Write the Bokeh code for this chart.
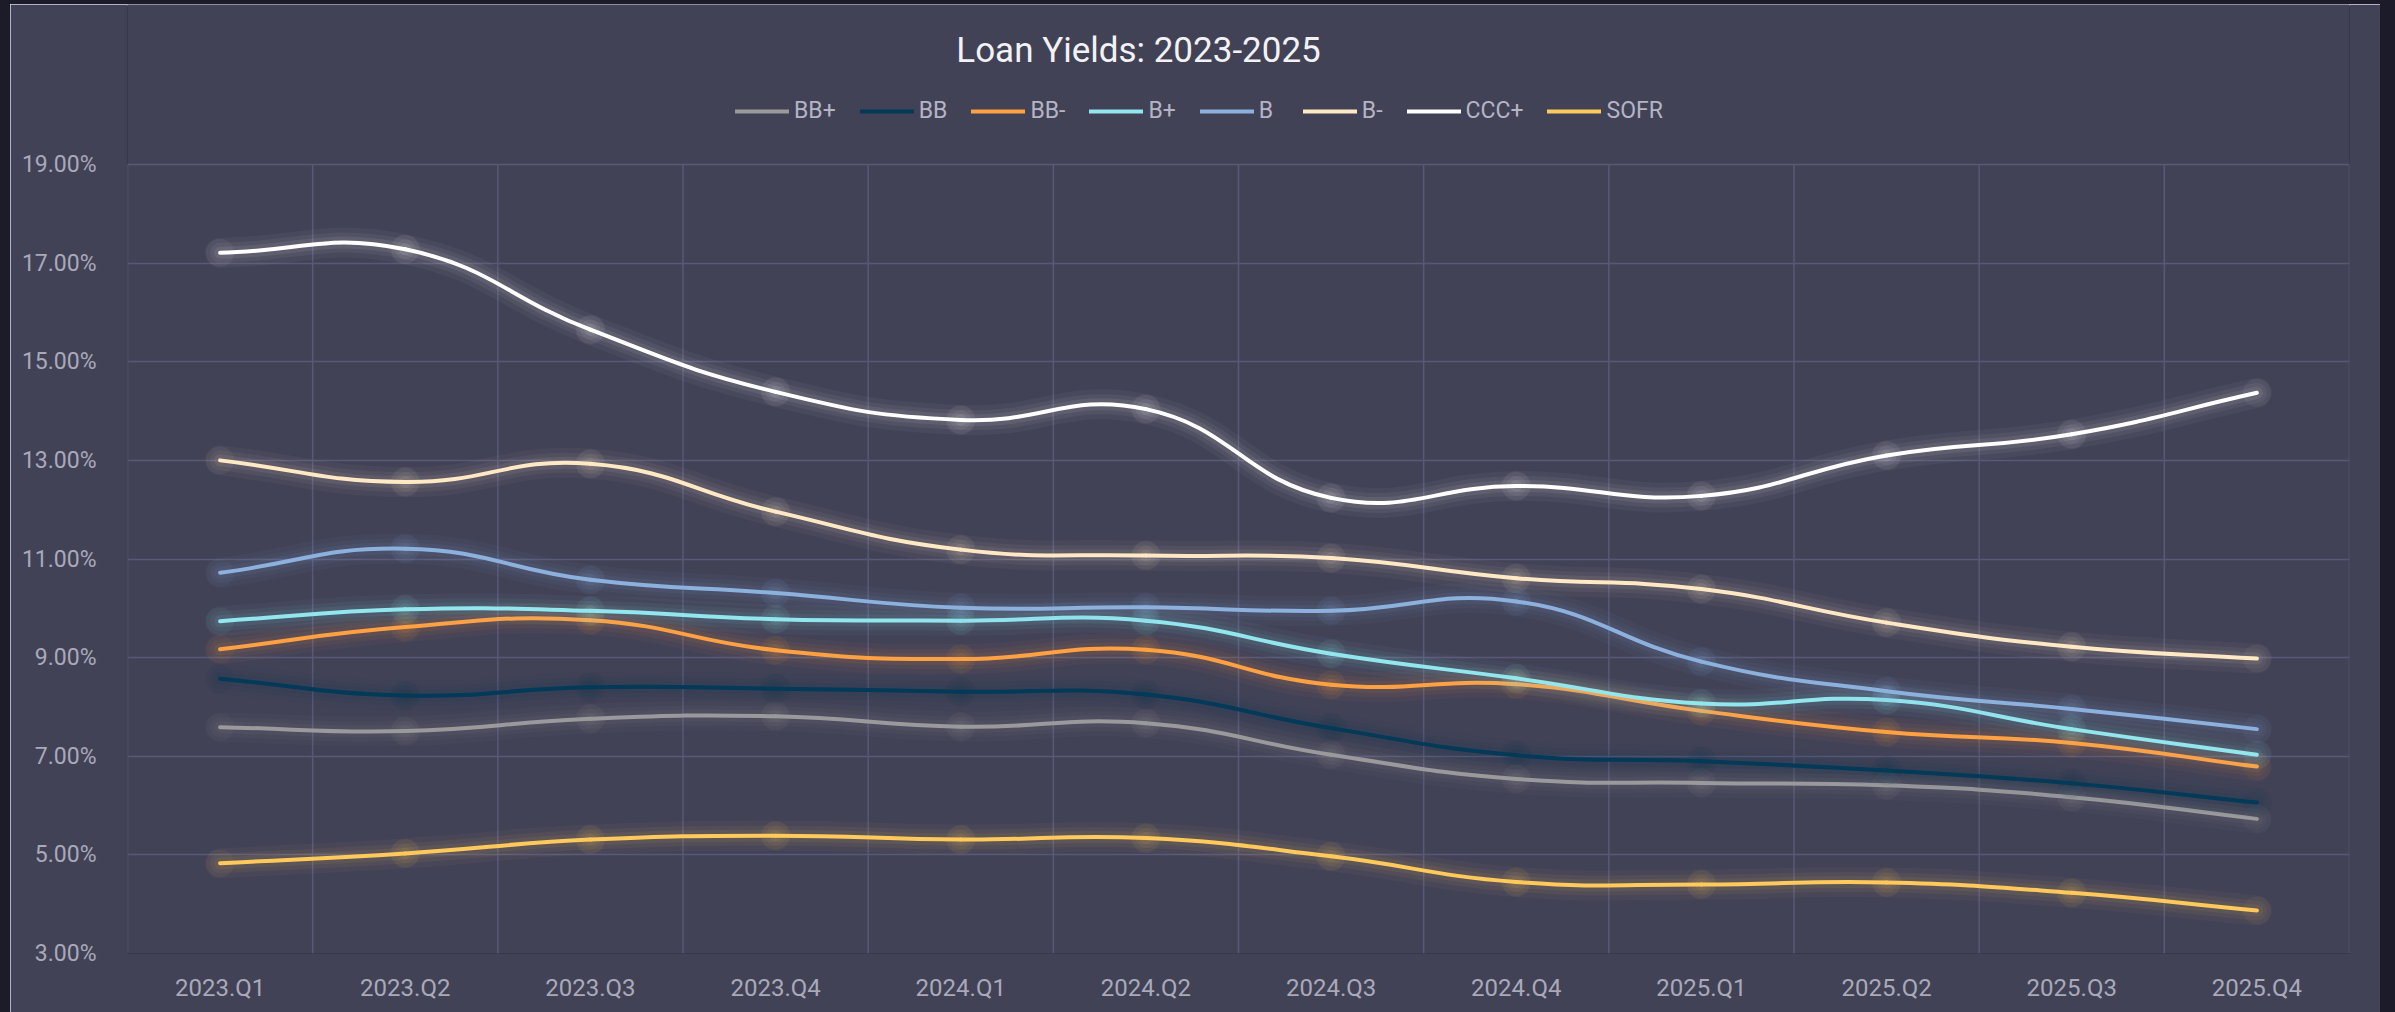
from bokeh.plotting import figure
from bokeh.models import (Range1d, FixedTicker, PrintfTickFormatter, Legend,
                          LegendItem, Label, ColumnDataSource)
from bokeh.embed import file_html
from bokeh.resources import INLINE

# ---------------- data ----------------
quarters = ["2023.Q1", "2023.Q2", "2023.Q3", "2023.Q4",
            "2024.Q1", "2024.Q2", "2024.Q3", "2024.Q4",
            "2025.Q1", "2025.Q2", "2025.Q3", "2025.Q4"]
y_ticks = [3, 5, 7, 9, 11, 13, 15, 17, 19]

bb_plus = [7.59, 7.51, 7.76, 7.81, 7.60, 7.67, 7.03, 6.54, 6.46, 6.41, 6.17, 5.73]
bb = [8.57, 8.23, 8.40, 8.37, 8.31, 8.25, 7.57, 7.02, 6.90, 6.71, 6.45, 6.06]
bb_minus = [9.17, 9.62, 9.76, 9.15, 8.97, 9.16, 8.45, 8.46, 7.92, 7.49, 7.27, 6.79]
b_plus = [9.74, 9.98, 9.95, 9.78, 9.75, 9.75, 9.08, 8.58, 8.07, 8.14, 7.55, 7.03]
b = [10.72, 11.21, 10.58, 10.31, 10.01, 10.02, 9.95, 10.14, 8.92, 8.32, 7.96, 7.55]
b_minus = [13.00, 12.56, 12.93, 11.96, 11.19, 11.07, 11.02, 10.61, 10.39, 9.71, 9.22, 8.98]
ccc_plus = [17.21, 17.28, 15.65, 14.39, 13.82, 14.04, 12.24, 12.48, 12.28, 13.10, 13.53, 14.37]
sofr = [4.83, 5.03, 5.31, 5.39, 5.31, 5.34, 4.97, 4.45, 4.40, 4.44, 4.23, 3.87]

series_names = ["BB+", "BB", "BB-", "B+", "B", "B-", "CCC+", "SOFR"]
series_values = [bb_plus, bb, bb_minus, b_plus, b, b_minus, ccc_plus, sofr]
series_colors = ["#9a9a9c", "#023a57", "#ffa042", "#92e6ee", "#8cb1dc",
                 "#ffe9c4", "#ffffff", "#ffc95c"]

# ---------------- style ----------------
PANEL = "#424257"
GRID = "#585877"
TICK_TXT = "#a9a9b9"
FONT = "Roboto"

W, H = 2370, 1008
ML, MR, MT, MB = 117, 31, 0, 59
frame_w = W - ML - MR
frame_h = H - MT - MB
n = len(quarters)
x_pos = [i + 0.5 for i in range(n)]
px_x = frame_w / n                                   # pixels per x unit
px_y = (953 - 164) / (y_ticks[-1] - y_ticks[0])      # pixels per y unit
y_top = y_ticks[0] + frame_h / px_y                  # room for title/legend


def smooth_segments(xs, ys, t=0.45):
    """cubic bezier control points for a smooth curve through the data points"""
    P = [(x * px_x, y * px_y) for x, y in zip(xs, ys)]
    m = len(P)
    cin, cout = [None] * m, [None] * m
    for i in range(m):
        prev = P[i - 1] if i > 0 else P[i]
        nxt = P[i + 1] if i < m - 1 else P[i]
        d01 = ((P[i][0] - prev[0]) ** 2 + (P[i][1] - prev[1]) ** 2) ** 0.5
        d12 = ((nxt[0] - P[i][0]) ** 2 + (nxt[1] - P[i][1]) ** 2) ** 0.5
        s = d01 + d12
        s01 = d01 / s if s else 0
        s12 = d12 / s if s else 0
        vx, vy = nxt[0] - prev[0], nxt[1] - prev[1]
        cin[i] = (P[i][0] - t * s01 * vx, P[i][1] - t * s01 * vy)
        cout[i] = (P[i][0] + t * s12 * vx, P[i][1] + t * s12 * vy)
    d = dict(x0=[], y0=[], x1=[], y1=[], cx0=[], cy0=[], cx1=[], cy1=[])
    for i in range(m - 1):
        d["x0"].append(xs[i]); d["y0"].append(ys[i])
        d["x1"].append(xs[i + 1]); d["y1"].append(ys[i + 1])
        d["cx0"].append(cout[i][0] / px_x); d["cy0"].append(cout[i][1] / px_y)
        d["cx1"].append(cin[i + 1][0] / px_x); d["cy1"].append(cin[i + 1][1] / px_y)
    return d


p = figure(width=W, height=H, output_backend="svg", toolbar_location=None,
           x_range=Range1d(0, n), y_range=Range1d(y_ticks[0], y_top),
           min_border_left=ML, min_border_right=MR, min_border_top=MT,
           min_border_bottom=MB)
p.background_fill_color = PANEL
p.border_fill_color = PANEL
p.outline_line_color = None
p.styles = {"outline": "2px solid #d9d9e6", "outline-offset": "-2px"}

# grid: horizontal lines via the grid, vertical category separators limited to the plot box
p.xgrid.visible = False
p.ygrid.ticker = FixedTicker(ticks=y_ticks[1:])
p.ygrid.grid_line_color = GRID
p.ygrid.grid_line_width = 1.5
sep = list(range(n + 1))
p.segment(x0=sep, y0=[y_ticks[0]] * len(sep), x1=sep, y1=[y_ticks[-1]] * len(sep),
          line_color=GRID, line_width=1.5)

# axes
p.yaxis.ticker = FixedTicker(ticks=y_ticks)
p.yaxis.formatter = PrintfTickFormatter(format="%.2f%%")
p.xaxis.ticker = FixedTicker(ticks=x_pos)
p.xaxis.major_label_overrides = {xp: q for xp, q in zip(x_pos, quarters)}
for ax in (p.xaxis, p.yaxis):
    ax.axis_line_color = None
    ax.major_tick_line_color = None
    ax.minor_tick_line_color = None
    ax.major_label_text_color = TICK_TXT
    ax.major_label_text_font = FONT
p.yaxis.major_label_text_font_size = "23px"
p.xaxis.major_label_text_font_size = "24px"
p.yaxis.major_label_standoff = 25
p.xaxis.major_label_standoff = 14

# series
items = []
for name, vals, col in zip(series_names, series_values, series_colors):
    src = ColumnDataSource(smooth_segments(x_pos, vals))
    for lw, a in ((30, 0.04), (20, 0.05), (12, 0.07)):
        p.bezier(x0="x0", y0="y0", x1="x1", y1="y1", cx0="cx0", cy0="cy0",
                 cx1="cx1", cy1="cy1", source=src, line_color=col,
                 line_width=lw, line_alpha=a, line_cap="round")
    p.scatter(x_pos, vals, size=28, fill_color=col, fill_alpha=0.05,
              line_color=None)
    r = p.bezier(x0="x0", y0="y0", x1="x1", y1="y1", cx0="cx0", cy0="cy0",
                 cx1="cx1", cy1="cy1", source=src, line_color=col,
                 line_width=4, line_cap="round")
    items.append(LegendItem(label=name, renderers=[r]))

legend = Legend(items=items, orientation="horizontal", location=(608, 829),
                glyph_width=54, glyph_height=24, label_standoff=5, spacing=24,
                padding=0, margin=0, background_fill_alpha=0,
                border_line_alpha=0, label_text_color="#b4b4c4",
                label_text_font=FONT, label_text_font_size="23px")
p.add_layout(legend)

title = Label(x=5.46, y=y_ticks[-1] + (164 - 50) / px_y, text="Loan Yields: 2023-2025",
              text_align="center", text_baseline="middle",
              text_color="#f2f2f5", text_font=FONT,
              text_font_size="35px")
p.add_layout(title)

html = file_html(p, INLINE)
css = ("<style>html,body{margin:0!important;background:#1c1b29!important;"
       "overflow:hidden;}body{padding:4px 0 0 10px!important;}</style>")
html = html.replace("</head>", css + "</head>", 1)
open("out.html", "w").write(html)
